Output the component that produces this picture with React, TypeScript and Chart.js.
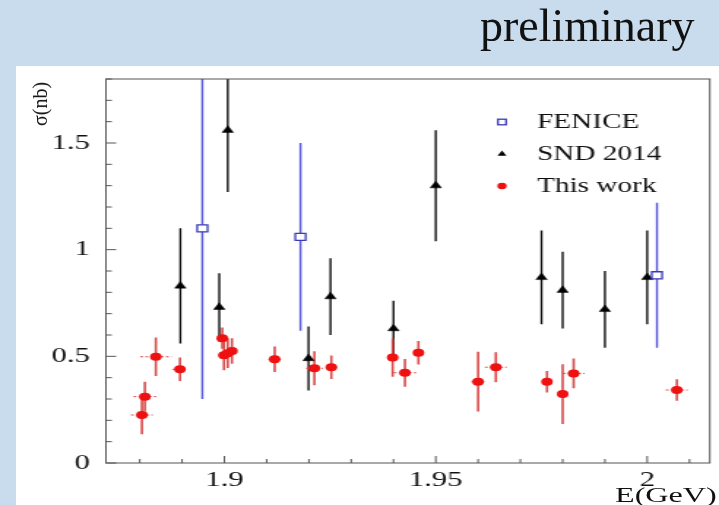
import React, { useEffect, useRef } from 'react';
import { Chart, registerables } from 'chart.js';
Chart.register(...registerables);

// ---- data ----
const feniceE = [1.8948, 1.918, 2.0023];
const feniceSigma = [1.10, 1.06, 0.88];
const feniceErr = [0.80, 0.44, 0.34];

const sndE = [1.8896, 1.8988, 1.9008, 1.9199, 1.9251, 1.94, 1.95, 1.975, 1.98, 1.99, 2.0];
const sndSigma = [0.83, 0.73, 1.56, 0.49, 0.78, 0.63, 1.30, 0.87, 0.81, 0.72, 0.87];
const sndErr = [0.27, 0.16, 0.29, 0.15, 0.18, 0.13, 0.26, 0.22, 0.18, 0.18, 0.22];

const workE = [1.8805, 1.8812, 1.8838, 1.8895, 1.8995, 1.8999, 1.9008, 1.9018, 1.9119, 1.9213,
  1.9253, 1.9398, 1.9427, 1.9459, 1.96, 1.9642, 1.9763, 1.98, 1.9826, 2.007];
const workSigma = [0.225, 0.311, 0.498, 0.439, 0.585, 0.505, 0.515, 0.525, 0.486, 0.444,
  0.449, 0.494, 0.423, 0.517, 0.381, 0.449, 0.381, 0.323, 0.42, 0.342];
const workErr = [0.09, 0.07, 0.09, 0.055, 0.05, 0.07, 0.07, 0.06, 0.06, 0.08,
  0.055, 0.09, 0.065, 0.055, 0.14, 0.07, 0.05, 0.14, 0.07, 0.05];
const workEErr = [0.0026, 0.0027, 0.0037, 0.0018, 0.001, 0.001, 0.001, 0.001, 0.0015, 0.002,
  0.0013, 0.0012, 0.0027, 0.001, 0.0016, 0.0026, 0.001, 0.001, 0.0026, 0.0026];

const legendLabels = ['FENICE', 'SND 2014', 'This work'];
const xLabel = 'E(GeV)';
const yLabel = 'σ(nb)';
const titleText = 'preliminary';

const X_MIN = 1.872, X_MAX = 2.0148, X_STEP = 0.01, X_MAJOR = 0.05;
const Y_MIN = 0, Y_MAX = 1.8, Y_STEP = 0.1, Y_MAJOR = 0.5;

// ---- layout ----
const PAGE_W = 719, PAGE_H = 505;
const W = 492, H = 505;
const SX = PAGE_W / W;
const SERIF = '"Liberation Serif", "Times New Roman", serif';

const isMajor = (v: number, step: number) => Math.abs(v / step - Math.round(v / step)) < 1e-6;
const fmt = (v: number) => String(+v.toFixed(2));

function drawMarker(ctx: CanvasRenderingContext2D, kind: string, x: number, y: number, s: number) {
  ctx.save();
  ctx.setLineDash([]);
  if (kind === 'rect') {
    const h = 3.5 * s;
    ctx.fillStyle = '#fff';
    ctx.strokeStyle = '#3a3ab8';
    ctx.lineWidth = 1.3;
    ctx.fillRect(x - h, y - h, 2 * h, 2 * h);
    ctx.strokeRect(x - h, y - h, 2 * h, 2 * h);
  } else if (kind === 'triangle') {
    const r = 4.4 * s;
    ctx.fillStyle = '#000';
    ctx.beginPath();
    ctx.moveTo(x, y - r);
    ctx.lineTo(x + r * Math.sin(2 * Math.PI / 3), y - r * Math.cos(2 * Math.PI / 3));
    ctx.lineTo(x + r * Math.sin(4 * Math.PI / 3), y - r * Math.cos(4 * Math.PI / 3));
    ctx.closePath();
    ctx.fill();
  } else {
    ctx.fillStyle = '#ee1111';
    ctx.beginPath();
    ctx.arc(x, y, 4 * s, 0, Math.PI * 2);
    ctx.fill();
  }
  ctx.restore();
}

const errorBars = {
  id: 'errorBars',
  beforeDatasetsDraw(chart: any) {
    const { ctx, chartArea: ca, scales } = chart;
    const xs = scales.x, ys = scales.y;
    ctx.save();
    ctx.beginPath();
    ctx.rect(ca.left, ca.top, ca.right - ca.left, ca.bottom - ca.top);
    ctx.clip();
    chart.data.datasets.forEach((ds: any) => {
      const errY = ds.errY || [];
      const errX = ds.errX || [];
      ds.data.forEach((p: any, j: number) => {
        const px = xs.getPixelForValue(p.x);
        const py = ys.getPixelForValue(p.y);
        if (errY[j]) {
          ctx.setLineDash([]);
          ctx.strokeStyle = ds.errColor;
          ctx.lineWidth = ds.errWidth;
          ctx.beginPath();
          ctx.moveTo(px, ys.getPixelForValue(p.y + errY[j]));
          ctx.lineTo(px, ys.getPixelForValue(p.y - errY[j]));
          ctx.stroke();
        }
        if (errX[j]) {
          ctx.setLineDash([2, 1.5]);
          ctx.strokeStyle = ds.errColor;
          ctx.lineWidth = 1;
          ctx.beginPath();
          ctx.moveTo(xs.getPixelForValue(p.x - errX[j]), py);
          ctx.lineTo(xs.getPixelForValue(p.x + errX[j]), py);
          ctx.stroke();
        }
      });
    });
    ctx.restore();
  },
};

const frameAndLegend = {
  id: 'frameAndLegend',
  afterDraw(chart: any) {
    const { ctx, chartArea: ca, scales } = chart;
    const xs = scales.x, ys = scales.y;
    ctx.save();
    ctx.strokeStyle = '#555';
    ctx.lineWidth = 1;
    ctx.setLineDash([]);
    ctx.strokeRect(ca.left, ca.top, ca.right - ca.left, ca.bottom - ca.top);
    ys.ticks.forEach((t: any) => {
      const py = ys.getPixelForValue(t.value);
      const len = isMajor(t.value, Y_MAJOR) ? 7 : 4;
      ctx.beginPath();
      ctx.moveTo(ca.left, py);
      ctx.lineTo(ca.left + len, py);
      ctx.stroke();
    });
    xs.ticks.forEach((t: any) => {
      const px = xs.getPixelForValue(t.value);
      const len = isMajor(t.value, X_MAJOR) ? 7 : 4;
      ctx.beginPath();
      ctx.moveTo(px, ca.bottom);
      ctx.lineTo(px, ca.bottom - len);
      ctx.stroke();
    });
    // legend
    const kinds = ['rect', 'triangle', 'circle'];
    const rows = [122, 154, 186];
    const mx = 343.5, tx = 367.5;
    ctx.font = `20px ${SERIF}`;
    ctx.fillStyle = '#111';
    ctx.textBaseline = 'middle';
    ctx.textAlign = 'left';
    legendLabels.forEach((lab, i) => {
      drawMarker(ctx, kinds[i], mx, rows[i], 0.8);
      ctx.fillText(lab, tx, rows[i] + 1);
    });
    ctx.restore();
  },
};

export default function App() {
  const ref = useRef<HTMLCanvasElement | null>(null);

  useEffect(() => {
    if (!ref.current) return;
    const chart = new Chart(ref.current, {
      type: 'scatter',
      data: {
        datasets: [
          {
            label: legendLabels[0],
            data: feniceE.map((x, i) => ({ x, y: feniceSigma[i] })),
            pointStyle: 'rect',
            pointRadius: 5,
            pointBorderWidth: 1.3,
            pointBorderColor: '#3a3ab8',
            pointBackgroundColor: '#ffffff',
            errY: feniceErr,
            errColor: '#5555d8',
            errWidth: 1.4,
          } as any,
          {
            label: legendLabels[1],
            data: sndE.map((x, i) => ({ x, y: sndSigma[i] })),
            pointStyle: 'triangle',
            pointRadius: 4.4,
            pointBorderWidth: 0.5,
            pointBorderColor: '#000',
            pointBackgroundColor: '#000',
            errY: sndErr,
            errColor: '#111',
            errWidth: 1.4,
          } as any,
          {
            label: legendLabels[2],
            data: workE.map((x, i) => ({ x, y: workSigma[i] })),
            pointStyle: 'circle',
            pointRadius: 4,
            pointBorderWidth: 0,
            pointBorderColor: '#ee1111',
            pointBackgroundColor: '#ee1111',
            errY: workErr,
            errX: workEErr,
            errColor: '#d84a4a',
            errWidth: 1.6,
          } as any,
        ],
      },
      options: {
        responsive: false,
        maintainAspectRatio: false,
        devicePixelRatio: 1,
        animation: false,
        events: [],
        layout: { padding: { left: 0, top: 79, right: 2, bottom: 0 } },
        plugins: { legend: { display: false }, tooltip: { enabled: false }, title: { display: false } },
        scales: {
          x: {
            type: 'linear',
            position: 'bottom',
            min: X_MIN,
            max: X_MAX,
            afterFit: (s: any) => { s.height = 42; },
            grid: { display: false, drawTicks: false },
            border: { display: false },
            ticks: {
              stepSize: X_STEP,
              includeBounds: false,
              autoSkip: false,
              maxRotation: 0,
              minRotation: 0,
              padding: 5,
              color: '#111',
              font: { family: SERIF, size: 21 },
              callback: (v: any) => (isMajor(+v, X_MAJOR) ? fmt(+v) : ''),
            },
          },
          y: {
            type: 'linear',
            min: Y_MIN,
            max: Y_MAX,
            afterFit: (s: any) => { s.width = 72.5; },
            grid: { display: false, drawTicks: false },
            border: { display: false },
            ticks: {
              stepSize: Y_STEP,
              autoSkip: false,
              padding: 11,
              color: '#111',
              font: { family: SERIF, size: 21 },
              callback: (v: any) => (isMajor(+v, Y_MAJOR) ? fmt(+v) : ''),
            },
          },
        },
      },
      plugins: [errorBars, frameAndLegend],
    });
    return () => chart.destroy();
  }, []);

  return (
    <div style={{ position: 'fixed', left: 0, top: 0, width: PAGE_W, height: PAGE_H, background: '#c9dcee', overflow: 'hidden' }}>
      <div style={{ position: 'absolute', left: 16, top: 66, width: PAGE_W - 16, height: PAGE_H - 66, background: '#ffffff' }} />
      <div style={{ position: 'absolute', left: 0, top: 0, width: W, height: H, transform: `scaleX(${SX})`, transformOrigin: '0 0' }}>
        <canvas ref={ref} width={W} height={H} style={{ display: 'block', width: W, height: H }} />
      </div>
      <div style={{ position: 'absolute', left: 480, top: 3, fontFamily: SERIF, fontSize: 46, lineHeight: 1, color: '#111', whiteSpace: 'nowrap' }}>{titleText}</div>
      <div style={{ position: 'absolute', left: 40, top: 104, fontFamily: SERIF, fontSize: 20, lineHeight: 1, color: '#111', whiteSpace: 'nowrap', transform: 'translate(-50%, -50%) rotate(-90deg)' }}>{yLabel}</div>
      <div style={{ position: 'absolute', left: 615, top: 484, fontFamily: SERIF, fontSize: 22, lineHeight: 1, color: '#111', whiteSpace: 'nowrap', transform: `scaleX(${SX})`, transformOrigin: '0 0' }}>{xLabel}</div>
    </div>
  );
}
